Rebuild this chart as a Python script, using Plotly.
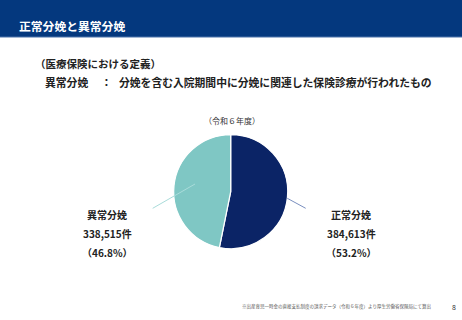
import plotly.graph_objects as go

W, H = 462, 320
labels = ["正常分娩", "異常分娩"]
values = [384613, 338515]
shares = [53.2, 46.8]
colors = ["#0b2466", "#7fc7c4"]
title = "正常分娩と異常分娩"
subtitle = "（令和６年度）"
note = "※出産育児一時金の直接支払制度の請求データ（令和６年度）より厚生労働省保険局にて算出"

def px(x): return x / W
def py(y): return 1 - y / H

FONT = "Noto Sans CJK JP"

fig = go.Figure()
cx, cy, r = 230.7, 191.7, 57
fig.add_trace(go.Pie(
    labels=labels, values=values, sort=False, direction="clockwise", rotation=0,
    marker=dict(colors=colors, line=dict(color="white", width=1.2)),
    textinfo="none", hoverinfo="label+value+percent", showlegend=False,
    domain=dict(x=[px(cx - r), px(cx + r)], y=[py(cy + r), py(cy - r)]),
))

shapes = [
    dict(type="rect", xref="paper", yref="paper", x0=0, x1=1, y0=py(37), y1=1,
         fillcolor="#04387e", line=dict(width=0), layer="below"),
    dict(type="line", xref="paper", yref="paper", x0=0, x1=1, y0=py(37), y1=py(37),
         line=dict(color="#4a72aa", width=1)),
    dict(type="line", xref="paper", yref="paper", x0=px(287.3), y0=py(198.3), x1=px(305.7), y1=py(208.3),
         line=dict(color="#7a8fbf", width=1)),
    dict(type="line", xref="paper", yref="paper", x0=px(152.7), y0=py(208.3), x1=px(195), y1=py(184),
         line=dict(color="#a9dcda", width=1), layer="above"),
]

ann = []
def t(x, y, text, size, color="#222222", bold=True, xanchor="left"):
    ann.append(dict(x=px(x), y=py(y), xref="paper", yref="paper", text=("<b>%s</b>" % text) if bold else text,
                    showarrow=False, xanchor=xanchor, yanchor="middle",
                    font=dict(family=FONT, size=size, color=color)))

t(17, 25, title, 11.8, color="white")
t(33, 63, "（医療保険における定義）", 10.5)
t(43, 82, "異常分娩", 10.8)
t(99, 82, "：", 10.8)
t(117, 82, "分娩を含む入院期間中に分娩に関連した保険診療が行われたもの", 10.8)
t(232, 120, subtitle, 8, color="#333333", bold=False, xanchor="center")

t(107, 214, labels[1], 10, xanchor="center")
t(107, 233, f"{values[1]:,}件", 10, xanchor="center")
t(107, 252, f"（{shares[1]}%）", 10, xanchor="center")
t(351, 214, labels[0], 10, xanchor="center")
t(351, 233, f"{values[0]:,}件", 10, xanchor="center")
t(351, 252, f"（{shares[0]}%）", 10, xanchor="center")

t(336, 306, note, 4.5, color="#555555", bold=False, xanchor="center")
t(454, 307, "8", 7, color="#333333", bold=False, xanchor="center")

fig.update_layout(width=W, height=H, margin=dict(l=0, r=0, t=0, b=0),
                  paper_bgcolor="white", plot_bgcolor="white",
                  shapes=shapes, annotations=ann)
fig.write_html("out.html", config={"displayModeBar": False})
